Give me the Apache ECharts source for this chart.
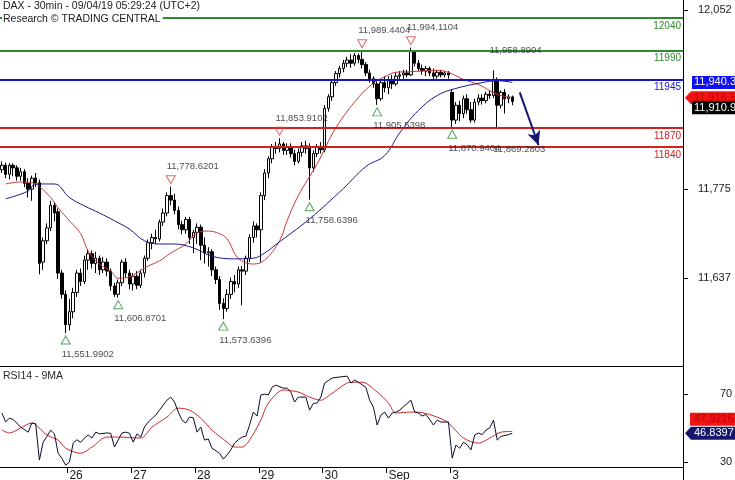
<!DOCTYPE html>
<html><head><meta charset="utf-8">
<script src="https://cdn.jsdelivr.net/npm/echarts@6/dist/echarts.min.js"></script>
<style>html,body{margin:0;padding:0;background:#fff}#c{width:735px;height:480px}</style>
</head><body><div id="c"></div>
<script>
// ---------------- data ----------------
const slotCount = 182;
const dayStarts = [18, 35, 52, 69, 86, 103, 120];
const dayLabels = ['26', '27', '28', '29', '30', 'Sep', '3'];
const priceTicks = [12052, 11775, 11637];
const rsiTicks = [70, 30];

const opens = [11805,11812,11798,11812,11808,11795,11802,11784,11775,11792,11785,11662,11695,11715,11750,11740,11645,11612,11565,11585,
11615,11645,11632,11665,11675,11660,11668,11650,11662,11648,11625,11612,11630,11662,11645,11628,11640,11626,11645,11668,
11692,11700,11698,11724,11738,11765,11758,11742,11720,11712,11728,11700,11708,11716,11688,11676,11678,11650,11635,11598,
11590,11612,11632,11628,11650,11648,11668,11700,11718,11712,11765,11800,11822,11840,11838,11845,11835,11840,11830,11818,
11832,11842,11838,11808,11830,11840,11836,11900,11918,11940,11954,11962,11970,11975,11970,11982,11976,11968,11955,11946,
11938,11915,11940,11932,11945,11938,11950,11952,11955,11952,11988,11970,11962,11958,11962,11955,11950,11956,11952,11955,
11925,11882,11905,11892,11915,11898,11882,11910,11916,11912,11922,11920,11945,11905,11925,11915,11918];
const closes = [11812,11798,11812,11808,11795,11802,11784,11775,11792,11785,11660,11695,11715,11750,11738,11645,11612,11565,11585,11615,
11645,11632,11665,11675,11660,11668,11650,11662,11648,11625,11612,11630,11662,11645,11628,11640,11626,11645,11668,11692,
11700,11698,11724,11738,11765,11758,11742,11720,11712,11728,11700,11708,11716,11688,11676,11678,11650,11635,11598,11590,
11612,11632,11628,11650,11648,11668,11700,11718,11712,11765,11800,11822,11840,11838,11845,11835,11840,11830,11818,11832,
11842,11838,11808,11830,11840,11836,11900,11918,11940,11954,11962,11970,11975,11970,11982,11976,11968,11955,11946,11938,
11915,11940,11932,11945,11938,11950,11952,11955,11952,11988,11970,11962,11958,11962,11955,11950,11956,11952,11955,11952,
11882,11905,11892,11915,11898,11882,11910,11916,11912,11922,11920,11945,11905,11925,11915,11918,11910.9];
const lows = [11800,11792,11790,11795,11788,11788,11778,11762,11757,11778,11643,11650,11690,11710,11725,11636,11605,11551.9902,11556,11575,
11608,11625,11628,11650,11652,11645,11642,11645,11640,11618,11608,11606.8701,11625,11638,11620,11618,11620,11622,11638,11664,
11682,11690,11694,11718,11733,11750,11736,11713,11705,11706,11690,11676,11690,11665,11660,11655,11640,11628,11588,11573.6396,
11585,11605,11615,11622,11595,11642,11662,11692,11700,11662,11758,11792,11815,11830,11832,11828,11828,11824,11812,11815,
11825,11830,11758.6396,11802,11825,11830,11832,11895,11912,11935,11948,11956,11964,11963,11966,11970,11962,11950,11940,11932,
11905.5398,11912,11925,11922,11930,11935,11944,11946,11948,11950,11965,11958,11952,11950,11950,11945,11946,11948,11948,11946,
11870.9404,11876,11880,11885,11892,11878,11878,11905,11906,11908,11915,11916,11869.2803,11900,11892,11908,11905];
const highs = [11818,11816,11815,11815,11812,11808,11806,11792,11796,11800,11790,11700,11722,11757,11755,11745,11650,11618,11605,11622,
11650,11652,11672,11682,11680,11678,11672,11670,11668,11652,11630,11635,11666,11668,11650,11645,11648,11650,11672,11697,
11706,11712,11728,11745,11770,11778.6201,11768,11748,11726,11732,11732,11712,11722,11720,11700,11685,11682,11655,11640,11606,
11620,11638,11642,11655,11656,11672,11705,11725,11722,11770,11806,11826,11845,11848,11853.9102,11848,11846,11846,11836,11838,
11848,11850,11846,11835,11845,11848,11905,11922,11945,11958,11966,11975,11980,11984,11986,11985,11989.4404,11972,11960,11950,
11942,11945,11950,11950,11952,11955,11958,11960,11960,11994.1104,11990,11975,11968,11966,11965,11962,11960,11960,11958,11958,
11930,11910,11912,11920,11922,11910,11915,11922,11922,11926,11928,11958.8904,11948,11928,11930,11922,11920];

// moving averages: [bar index, value]
const maFast = [[1,11783],[5,11786],[8,11785],[10,11779],[13,11762],[15,11746],[18,11726],[21,11706],[23,11679],[26,11659],
[29,11648],[31,11637],[34,11639],[38,11653],[42,11664],[45,11676],[49,11690],[52,11707],[55,11710],[58,11706],[60,11698],
[63,11668],[67,11659],[70,11665],[74,11695],[76,11726],[79,11765],[84,11814],[89,11870],[95,11917],[99,11939],[102,11949],
[105,11956],[109,11957],[116,11959],[119,11956],[123,11945],[127,11937],[132,11922],[136,11916.5]];
const maSlow = [[1,11760],[7,11772],[9,11783],[14,11783],[18,11762],[22,11749],[26,11738],[30,11726],[34,11713],[38,11695],
[42,11690],[46,11690],[51,11684],[56,11671],[62,11667],[67,11668],[70,11676],[73,11689],[82,11729],[91,11776],[97,11810],
[102,11827],[106,11862],[111,11897],[116,11920],[121,11931],[128,11940],[132,11943],[136,11940.3]];

const rsiLine = [[0,58.8],[1,53.5],[2,55.8],[3,55],[5,50.5],[7,47.5],[8,52.9],[9,52.5],[10,31],[11,41.6],[12,45],[13,48.7],
[14,46.5],[15,35],[16,32],[17,28],[18,29.8],[19,41],[20,43],[21,41.5],[22,44],[23,45.8],[24,44],[25,47.5],[26,46.5],[28,47],
[29,46.8],[30,38.7],[32,47],[33,47.5],[34,46.8],[35,41.6],[36,46.5],[37,44.6],[38,50.5],[39,53.5],[41,57.6],[42,60.5],[43,63.5],
[44,66.4],[45,68.2],[46,65.3],[47,59.4],[48,54.6],[49,52.9],[50,56.4],[51,56],[52,47.5],[53,50.5],[54,42.8],[55,43.5],[56,38],
[58,35],[59,31.6],[60,34],[61,37],[62,41],[63,43],[64,44.6],[65,45],[66,51.7],[67,59.4],[68,57],[69,69.4],[70,70],[71,69.5],
[72,74],[73,75.3],[75,73.5],[76,73.5],[77,71.2],[78,65.3],[79,68.2],[81,68.2],[82,60.5],[83,64.5],[84,64.7],[85,68.2],[86,76.5],
[87,78],[88,79.5],[90,80.1],[92,80.6],[93,76.5],[94,78.3],[95,77],[97,74],[98,66.4],[99,62.3],[100,51.7],[101,57.6],[102,59.4],
[103,55.8],[104,58.8],[105,59.4],[106,60.5],[109,66.4],[110,59.4],[111,58.8],[112,57],[113,58],[115,51.7],[116,54.6],[117,53.5],
[119,53.5],[120,32.2],[121,39.9],[122,38],[123,41.6],[124,40],[125,37],[126,45.8],[127,47],[128,46],[129,48.7],[130,50],[131,54.6],
[132,42.8],[133,45],[135,46],[136,46.8397]];
const rsiMa = [[0,48.7],[2,47],[5,50],[8,52.9],[9,52],[12,45.8],[15,42.8],[17,38],[21,35],[24,38.7],[28,44.6],[31,44.6],
[37,44],[40,50.5],[44,56.4],[47,61.7],[50,60.5],[53,55.8],[56,48.7],[60,41.6],[62,38.7],[64,38.7],[66,42.8],[69,54.6],[71,64.7],
[75,72.4],[79,71.2],[82,68.2],[85,66.4],[88,70.5],[93,77],[96,77],[100,71.2],[103,64.7],[105,58.8],[109,59.4],[112,59],
[116,56.4],[119,52.9],[123,44],[127,41],[130,44],[133,47.5],[136,47.9]];

const levels = [12040, 11990, 11945, 11870, 11840];
const pivotIdx = [17, 31, 45, 59, 74, 82, 96, 100, 109, 120, 131, 132];
const pivotVal = [11551.9902, 11606.8701, 11778.6201, 11573.6396, 11853.9102, 11758.6396, 11989.4404, 11905.5398, 11994.1104, 11870.9404, 11958.8904, 11869.2803];
const pivotKind = ['low', 'low', 'high', 'low', 'high', 'low', 'high', 'low', 'high', 'low', 'high-text', 'low-text'];
const arrowFrom = [138, 11925];
const arrowTo = [143, 11843];
const lastClose = 11910.9, lastFast = 11916.5, lastSlow = 11940.3, lastRsi = 46.8397, lastRsiMa = 47.9216;

// ---------------- chart ----------------
const FONT = 'Liberation Sans, Arial, sans-serif';
const levelColor = v => v >= 11990 ? '#2f8a2f' : (v >= 11900 ? '#1515c8' : '#d02020');
const fmt4 = v => v.toLocaleString('en-US', {minimumFractionDigits: 4, maximumFractionDigits: 4});
const cats = Array.from({length: slotCount}, (_, i) => { const k = dayStarts.indexOf(i); return k >= 0 ? dayLabels[k] : ''; });
const candles = opens.map((o, i) => [o, closes[i], lows[i], highs[i]]);

const tri = [], lbl = [];
pivotIdx.forEach((ix, k) => {
  const kind = pivotKind[k], high = kind.startsWith('high');
  if (!kind.endsWith('text')) {
    tri.push({value: [ix, pivotVal[k]], symbolRotate: high ? 180 : 0, symbolOffset: [0, high ? -7 : 7],
      itemStyle: {color: 'rgba(255,255,255,0)', borderColor: high ? '#d04848' : '#2f8a3a', borderWidth: 1}});
  }
  lbl.push({value: [ix, pivotVal[k]], label: {offset: [-4, high ? -20 : 21]}});
});

const chart = echarts.init(document.getElementById('c'), null, {renderer: 'canvas'});
const tstyle = (c) => ({fontSize: 10.5, fontWeight: 'normal', color: c, fontFamily: FONT});
const option = {
  animation: false,
  backgroundColor: '#fff',
  textStyle: {fontFamily: FONT},
  title: [
    {text: 'DAX - 30min - 09/04/19 05:29:24 (UTC+2)', left: 2, top: 0, padding: [1, 1], textStyle: tstyle('#1a1a1a')},
    {text: 'Research © TRADING CENTRAL', left: 2, top: 14, padding: [0, 2, 0, 1], backgroundColor: '#fff', textStyle: tstyle('#1a1a1a')},
    {text: 'RSI14 - 9MA', left: 2, top: 370, padding: [1, 1], textStyle: tstyle('#2a2a2a')}
  ],
  grid: [
    {left: 0, top: 0, width: 683, height: 366, outerBoundsMode: 'none', containLabel: false},
    {left: 0, top: 366, width: 683, height: 101, outerBoundsMode: 'none', containLabel: false}
  ],
  xAxis: [
    {type: 'category', gridIndex: 0, data: cats, boundaryGap: true,
      axisLine: {onZero: false, lineStyle: {color: '#000', width: 1}}, axisTick: {show: false}, axisLabel: {show: false}, splitLine: {show: false}},
    {type: 'category', gridIndex: 1, data: cats, boundaryGap: true,
      axisLine: {onZero: false, lineStyle: {color: '#000', width: 1}},
      axisTick: {show: true, length: 6, interval: (i) => dayStarts.includes(i), lineStyle: {color: '#000'}},
      axisLabel: {show: true, interval: (i) => dayStarts.includes(i), align: 'left', margin: 3, fontSize: 12, color: '#1a1a1a', fontFamily: FONT},
      splitLine: {show: false}}
  ],
  yAxis: [
    {type: 'value', gridIndex: 0, position: 'right', min: 11501, max: 12068, scale: true,
      axisLine: {show: true, lineStyle: {color: '#000'}},
      axisTick: {show: true, length: 5, customValues: priceTicks, lineStyle: {color: '#000'}},
      axisLabel: {show: true, customValues: priceTicks, margin: 15, fontSize: 11, color: '#1a1a1a', fontFamily: FONT,
        formatter: v => v.toLocaleString('en-US')},
      splitLine: {show: false}},
    {type: 'value', gridIndex: 1, position: 'right', min: 26.9, max: 86.6,
      axisLine: {show: true, lineStyle: {color: '#000'}},
      axisTick: {show: true, length: 5, customValues: rsiTicks, lineStyle: {color: '#000'}},
      axisLabel: {show: true, customValues: rsiTicks, margin: 37, fontSize: 11, color: '#1a1a1a', fontFamily: FONT},
      splitLine: {show: false}}
  ],
  series: [
    {type: 'line', name: 'levels', xAxisIndex: 0, yAxisIndex: 0, data: [], z: 1,
      markLine: {silent: true, symbol: ['none', 'none'], animation: false,
        data: levels.map(v => ({yAxis: v, lineStyle: {color: levelColor(v), width: 2, type: 'solid'},
          label: {show: true, position: 'insideEndBottom', distance: [2, 3], formatter: String(v), fontSize: 10,
            color: levelColor(v), fontFamily: FONT}}))}},
    {type: 'candlestick', xAxisIndex: 0, yAxisIndex: 0, data: candles, barWidth: 3, z: 3,
      itemStyle: {color: '#fff', color0: '#000', borderColor: '#000', borderColor0: '#000', borderWidth: 1}},
    {type: 'line', xAxisIndex: 0, yAxisIndex: 0, data: maFast, showSymbol: false, smooth: 0.4, z: 4,
      lineStyle: {color: '#c83a3a', width: 1}},
    {type: 'line', xAxisIndex: 0, yAxisIndex: 0, data: maSlow, showSymbol: false, smooth: 0.4, z: 4,
      lineStyle: {color: '#1a1a8c', width: 1}},
    {type: 'line', xAxisIndex: 0, yAxisIndex: 0, data: [], z: 5,
      markLine: {silent: true, animation: false,
        data: [[{coord: arrowFrom, symbol: 'none'}, {coord: arrowTo, symbol: 'arrow', symbolSize: [10, 14]}]],
        lineStyle: {color: '#16166e', width: 2, type: 'solid'}, label: {show: false}}},
    {type: 'scatter', xAxisIndex: 0, yAxisIndex: 0, data: tri, symbol: 'triangle', symbolSize: [9, 8], z: 6},
    {type: 'scatter', xAxisIndex: 0, yAxisIndex: 0, data: lbl, symbol: 'circle', symbolSize: 1, z: 6,
      itemStyle: {color: 'rgba(0,0,0,0)'},
      label: {show: true, position: 'inside', align: 'left', verticalAlign: 'middle', fontSize: 9.5, color: '#222',
        fontFamily: FONT, formatter: p => fmt4(p.value[1])}},
    {type: 'line', xAxisIndex: 1, yAxisIndex: 1, data: rsiMa, showSymbol: false, smooth: 0.3, z: 3,
      lineStyle: {color: '#cc2a2a', width: 1}},
    {type: 'line', xAxisIndex: 1, yAxisIndex: 1, data: rsiLine, showSymbol: false, z: 4,
      lineStyle: {color: '#0c0c2c', width: 1}}
  ]
};
chart.setOption(option);

// value boxes on the right axis
const ax = 683, W = 735;
const py = v => chart.convertToPixel({yAxisIndex: 0}, v);
const ry = v => chart.convertToPixel({yAxisIndex: 1}, v);
function box(y, fill, text, tcol, pointer, left) {
  const h = 13, t = y - h / 2, els = [];
  if (pointer) {
    els.push({type: 'polygon', shape: {points: [[ax + 2, y], [ax + 8, t], [W, t], [W, t + h], [ax + 8, t + h]]},
      style: {fill: fill}, z: 100});
  } else {
    els.push({type: 'rect', shape: {x: left, y: t, width: W - left, height: h}, style: {fill: fill}, z: 100});
  }
  els.push({type: 'text', x: ax + 11, y: y, style: {text: text, fill: tcol, font: '11px ' + FONT, verticalAlign: 'middle'}, z: 101});
  return els;
}
const yFast = py(lastFast), ySlow = py(lastSlow), yClose = py(lastClose);
const yRsi = ry(lastRsi), yRsiMa = ry(lastRsiMa);
const g = [].concat(
  box(ySlow, '#1010f0', '11,940.3', '#fff', false, ax + 9),
  box(yFast, '#f01515', '11,916.5', '#c00000', true),
  box(yFast + 10, '#000', '11,910.9', '#fff', false, ax + 9),
  box(yRsi - 14, '#f01515', '47.9216', '#c00000', false, ax + 7),
  box(yRsi, '#16166e', '46.8397', '#fff', true),
  [{type: 'line', shape: {x1: ax + 0.5, y1: 467, x2: ax + 0.5, y2: 480}, style: {stroke: '#000', lineWidth: 1}, z: 100}]
);
chart.setOption({graphic: g});
</script>
</body></html>
